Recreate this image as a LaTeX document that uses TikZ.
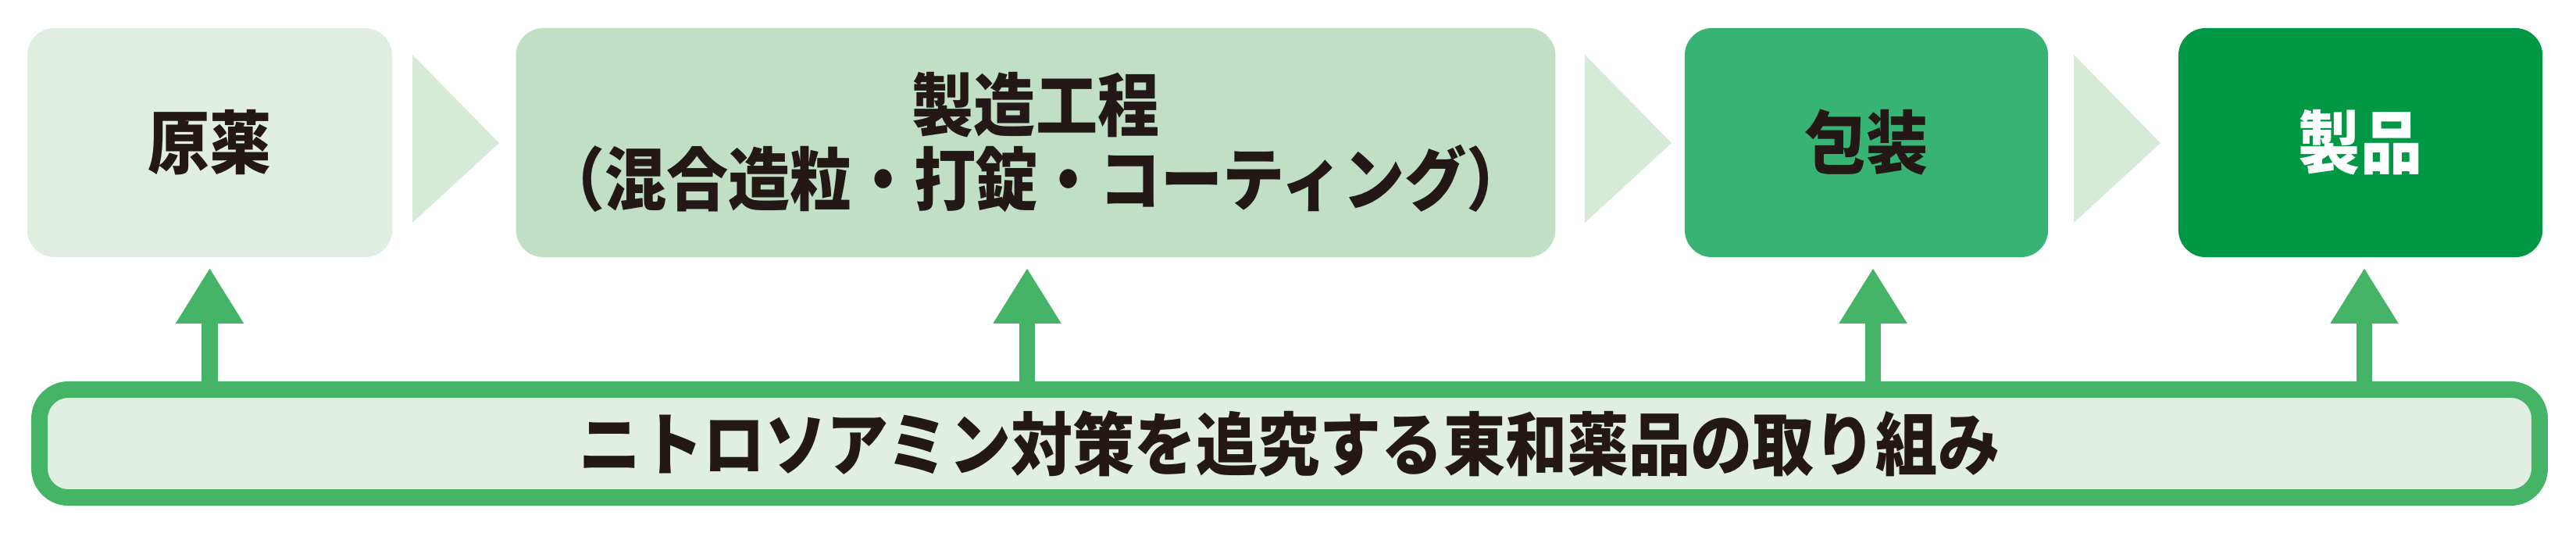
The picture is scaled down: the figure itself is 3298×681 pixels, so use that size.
\documentclass[tikz,border=0pt]{standalone}
\usepackage{fontspec}
\newfontfamily\jpfont{Noto Sans CJK JP}[FakeStretch=0.9]
\usepackage{xcolor}
\usetikzlibrary{positioning,arrows.meta}

\definecolor{rawfill}{HTML}{E0EEE1}
\definecolor{procfill}{HTML}{C0DFC4}
\definecolor{packfill}{HTML}{37B374}
\definecolor{prodfill}{HTML}{009844}
\definecolor{chevfill}{HTML}{D5EBD7}
\definecolor{linegreen}{HTML}{45B467}
\definecolor{basefill}{HTML}{E0EFE1}
\definecolor{inkblack}{HTML}{231815}

\begin{document}
\begin{tikzpicture}[x=0.01cm, y=0.01cm,
    stage/.style={rectangle, rounded corners=0.35cm, minimum height=2.93cm, inner sep=0pt, align=center, text=inkblack, font=\jpfont\bfseries\fontsize{25pt}{27pt}\selectfont},
    chevron/.style={fill=chevfill},
    effort/.style={rectangle, draw=linegreen, line width=0.21cm, fill=basefill, rounded corners=0.37cm, minimum width=31.99cm, minimum height=1.38cm, inner sep=0pt, text=inkblack, font=\jpfont\bfseries\fontsize{25pt}{27pt}\selectfont},
    uparrow/.style={-{Triangle[length=0.71cm, width=0.82cm]}, line width=0.2cm, draw=linegreen, shorten >=0.13cm}
]
    \useasboundingbox (0,0) rectangle (3298,681);

    % Process stages
    \node [stage, fill=rawfill, minimum width=4.67cm] (raw) at (268.5,498.5) {原薬};
    \node [stage, fill=procfill, minimum width=13.30cm] (proc) at (1326,498.5) {製造工程\\（混合造粒・打錠・コーティング）};
    \node [stage, fill=packfill, minimum width=4.65cm] (pack) at (2389.5,498.5) {包装};
    \node [stage, fill=prodfill, minimum width=4.66cm, text=white] (prod) at (3022,498.5) {製品};

    % Chevrons between stages
    \foreach \x in {528,2029,2655}
        \fill [chevron] (\x,611) -- ++(111,-113) -- ++(-111,-102) -- cycle;

    % Base bar
    \node [effort] (base) at (1651,113.5) {ニトロソアミン対策を追究する東和薬品の取り組み};

    % Arrows up
    \foreach \n/\dx in {raw/0,proc/-11,pack/8.5,prod/5}
        \draw [uparrow] ([xshift=\dx*0.01cm]base.north -| \n.south) -- ([xshift=\dx*0.01cm]\n.south);
\end{tikzpicture}
\end{document}
